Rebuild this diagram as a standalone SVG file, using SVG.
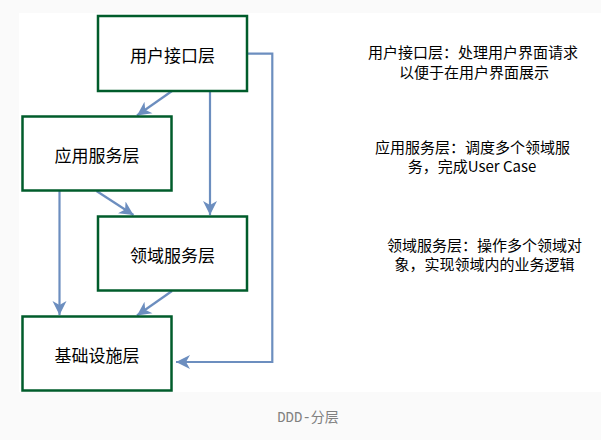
<svg xmlns="http://www.w3.org/2000/svg" width="601" height="440" viewBox="0 0 601 440">
  <style>
    .box { fill: #ffffff; stroke: #005c2b; stroke-width: 2.5; }
    .lbl { font-family: "Noto Sans CJK SC", "Noto Sans", sans-serif; font-size: 17px; fill: #000000; text-anchor: middle; dominant-baseline: central; }
    .note { font-family: "Noto Sans CJK SC", "Noto Sans", sans-serif; font-size: 15px; fill: #000000; text-anchor: middle; dominant-baseline: central; }
    .edge { fill: none; stroke: #6c8ebf; stroke-width: 2.2; marker-end: url(#arrow); }
    .cap { font-family: "Liberation Mono", "Noto Sans CJK SC", monospace; font-size: 14px; fill: #808080; text-anchor: middle; dominant-baseline: central; }
  </style>
  <defs>
    <marker id="arrow" markerUnits="userSpaceOnUse" markerWidth="16" markerHeight="16" viewBox="0 -8 16 16" refX="14" refY="0" orient="auto">
      <path d="M0,-7 L14,0 L0,7 L4,0 z" fill="#6c8ebf"/>
    </marker>
  </defs>
  <rect x="0" y="0" width="601" height="440" fill="#fafafa"/>
  <rect x="19" y="13" width="582" height="379" fill="#ffffff"/>

  <g id="connectors">
    <path class="edge" d="M172,91 L137,115.5"/>
    <path class="edge" d="M210,91 L210,215"/>
    <path class="edge" d="M247,53.7 L272.3,53.7 L272.3,362 L176,362"/>
    <path class="edge" d="M96.5,191 L133.5,215"/>
    <path class="edge" d="M59.5,191 L59.5,315"/>
    <path class="edge" d="M172,291 L137,315.5"/>
  </g>

  <g id="node-ui">
    <rect class="box" x="98" y="16" width="149" height="75"/>
    <text class="lbl" x="172.5" y="54.5">用户接口层</text>
  </g>
  <g id="node-app">
    <rect class="box" x="22.5" y="116.5" width="149" height="74"/>
    <text class="lbl" x="97" y="154.5">应用服务层</text>
  </g>
  <g id="node-domain">
    <rect class="box" x="98" y="216.5" width="149" height="74"/>
    <text class="lbl" x="172.5" y="254.5">领域服务层</text>
  </g>
  <g id="node-infra">
    <rect class="box" x="22.5" y="316.5" width="149" height="74"/>
    <text class="lbl" x="97" y="354.5">基础设施层</text>
  </g>

  <g id="notes">
    <text class="note"><tspan x="473" y="51">用户接口层：处理用户界面请求</tspan><tspan x="474" y="71">以便于在用户界面展示</tspan></text>
    <text class="note"><tspan x="472.5" y="146">应用服务层：调度多个领域服</tspan><tspan x="472" y="165">务，完成User Case</tspan></text>
    <text class="note"><tspan x="484.5" y="243.5">领域服务层：操作多个领域对</tspan><tspan x="484.5" y="262.5">象，实现领域内的业务逻辑</tspan></text>
  </g>

  <text class="cap" x="308" y="418">DDD-分层</text>
</svg>
